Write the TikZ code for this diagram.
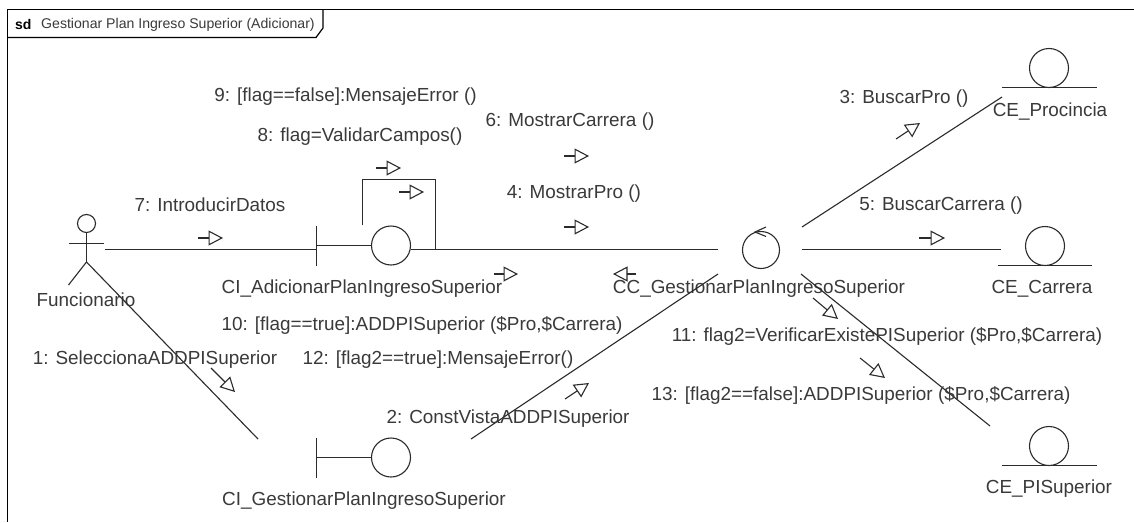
\documentclass[tikz,border=0pt]{standalone}
\usepackage{fontspec}
\setmainfont{Liberation Sans}
\usetikzlibrary{arrows.meta,calc}
\definecolor{ink}{HTML}{2B2B2B}
\definecolor{txt}{HTML}{3A3A3A}
\tikzset{
  wire/.style={draw=ink,line width=1.1pt},
  conn/.style={wire},
  msgarrow/.style={draw=ink,line width=1.1pt,-{Triangle[open,length=14.5pt,width=15pt,line width=1.1pt]}},
  lbl/.style={inner sep=0pt,yshift=-2pt,text=txt,font=\fontsize{18.9}{22}\selectfont},
  glyph/.style={circle,draw=ink,line width=1.1pt,inner sep=0pt,minimum size=39pt},
  framewire/.style={draw=black,line width=1.2pt}
}
\begin{document}
\begin{tikzpicture}[x=1pt,y=-1pt]
\useasboundingbox (0,0) rectangle (1134,522);
\fill[white] (0,0) rectangle (1134,522);
% frame
\coordinate (fBL) at (7.5,522);
\coordinate (fTL) at (7.5,9.5);
\coordinate (fTR) at (1134,9.5);
\coordinate (tabA) at (7.5,37.5);
\coordinate (tabB) at (316,37.5);
\coordinate (tabC) at (323,28);
\coordinate (tabD) at (323,9.5);
\draw[framewire] (fBL) -- (fTL) -- (fTR);
\draw[framewire] (tabA) -- (tabB) -- (tabC) -- (tabD);
\node[inner sep=0pt,anchor=west,text=black,font=\fontsize{14}{16}\selectfont\bfseries] (sd) at (15,24.5) {sd};
\node[inner sep=0pt,anchor=west,text=txt,font=\fontsize{14.1}{16}\selectfont] (title) at (41,24.5) {Gestionar Plan Ingreso Superior (Adicionar)};
% actor
\node[circle,draw=ink,line width=1.1pt,inner sep=0pt,minimum size=18pt] (head) at (86.5,223.5) {};
\coordinate (crotch) at (86.5,262);
\coordinate (armL) at (69,243.5);
\coordinate (armR) at (104,243.5);
\coordinate (legL) at (68.5,285);
\draw[wire] (head.south) -- (crotch);
\draw[wire] (armL) -- (armR);
\draw[wire] (crotch) -- (legL);
\node[lbl] (funcionario) at (86,298) {Funcionario};
% CI_Adicionar
\node[glyph] (ciA) at (391,245.5) {};
\coordinate (ciAt) at (316.5,226);
\coordinate (ciAb) at (316.5,266);
\coordinate (ciAm) at (316.5,245.5);
\draw[wire] (ciAt) -- (ciAb);
\draw[wire] (ciAm) -- (ciA.west);
\node[lbl] (ciAl) at (362,287) {CI\_AdicionarPlanIngresoSuperior};
% CI_Gestionar
\node[glyph] (ciG) at (391,457.5) {};
\coordinate (ciGt) at (316.5,438);
\coordinate (ciGb) at (316.5,478);
\coordinate (ciGm) at (316.5,457.5);
\draw[wire] (ciGt) -- (ciGb);
\draw[wire] (ciGm) -- (ciG.west);
\node[lbl] (ciGl) at (364,499) {CI\_GestionarPlanIngresoSuperior};
% control
\node[circle,draw=ink,line width=1.1pt,inner sep=0pt,minimum size=37pt] (cc) at (761,250) {};
\coordinate (ccT) at (755,232);
\coordinate (ccU) at (766,227);
\coordinate (ccV) at (766,236.5);
\draw[wire] (ccU) -- (ccT) -- (ccV);
\node[lbl] (ccl) at (759,287) {CC\_GestionarPlanIngresoSuperior};
% entities
\node[glyph] (eP) at (1049,68) {};
\coordinate (ePl) at (1002,87.5);
\coordinate (ePr) at (1097,87.5);
\draw[wire] (ePl) -- (ePr);
\node[lbl] (ePt) at (1050,110) {CE\_Procincia};
\node[glyph] (eC) at (1045,246) {};
\coordinate (eCl) at (998,265.5);
\coordinate (eCr) at (1092,265.5);
\draw[wire] (eCl) -- (eCr);
\node[lbl] (eCt) at (1042,287) {CE\_Carrera};
\node[glyph] (eS) at (1049,446) {};
\coordinate (eSl) at (1002,465.5);
\coordinate (eSr) at (1097,465.5);
\draw[wire] (eSl) -- (eSr);
\node[lbl] (eSt) at (1049,487) {CE\_PISuperior};
% connectors
\coordinate (c1a) at (105,249.5);
\coordinate (c1b) at (316.5,249.5);
\draw[conn] (c1a) -- (c1b);
\coordinate (c2b) at (258,439);
\draw[conn] (crotch) -- (c2b);
\coordinate (l1) at (362.5,225);
\coordinate (l2) at (362.5,179.5);
\coordinate (l3) at (435.5,179.5);
\coordinate (l4) at (435.5,249.5);
\draw[conn] (l1) -- (l2) -- (l3) -- (l4);
\coordinate (c3a) at (411,249.5);
\coordinate (c3b) at (718,249.5);
\draw[conn] (c3a) -- (c3b);
\coordinate (c4a) at (802,227);
\coordinate (c4b) at (1002,97);
\draw[conn] (c4a) -- (c4b);
\coordinate (c5a) at (802,249.5);
\coordinate (c5b) at (1001,249.5);
\draw[conn] (c5a) -- (c5b);
\coordinate (c6a) at (718,274);
\coordinate (c6b) at (471,439);
\draw[conn] (c6a) -- (c6b);
\coordinate (c7a) at (801,274);
\coordinate (c7b) at (990,426);
\draw[conn] (c7a) -- (c7b);
% message arrows
\foreach \sx/\sy/\ex/\ey in {198/238/223/238, 376/168/401/168, 399/192/424/192, 564/156/589/156, 564/227/589/227, 919/238/945/238, 896/139/920/123, 494/274/518/274, 636/274/613/274, 211/368/235/392, 565/399/589/383, 813/298/838/319, 860/358/885/378}
  \draw[msgarrow] (\sx,\sy) -- (\ex,\ey);
% labels
\node[lbl] (m9) at (345.5,95) {9: [flag==false]:MensajeError ()};
\node[lbl] (m8) at (360,135) {8: flag=ValidarCampos()};
\node[lbl] (m6) at (570,120) {6: MostrarCarrera ()};
\node[lbl] (m4) at (574,192) {4: MostrarPro ()};
\node[lbl] (m7) at (210,203) {7: IntroducirDatos};
\node[lbl] (m3) at (904,97) {3: BuscarPro ()};
\node[lbl] (m5) at (941,204) {5: BuscarCarrera ()};
\node[lbl] (m10) at (422,323) {10: [flag==true]:ADDPISuperior (\$Pro,\$Carrera)};
\node[lbl] (m1) at (155,358) {1: SeleccionaADDPISuperior};
\node[lbl] (m12) at (438,358) {12: [flag2==true]:MensajeError()};
\node[lbl] (m2) at (508,417) {2: ConstVistaADDPISuperior};
\node[lbl] (m11) at (887,334) {11: flag2=VerificarExistePISuperior (\$Pro,\$Carrera)};
\node[lbl] (m13) at (861,393) {13: [flag2==false]:ADDPISuperior (\$Pro,\$Carrera)};
\end{tikzpicture}
\end{document}
